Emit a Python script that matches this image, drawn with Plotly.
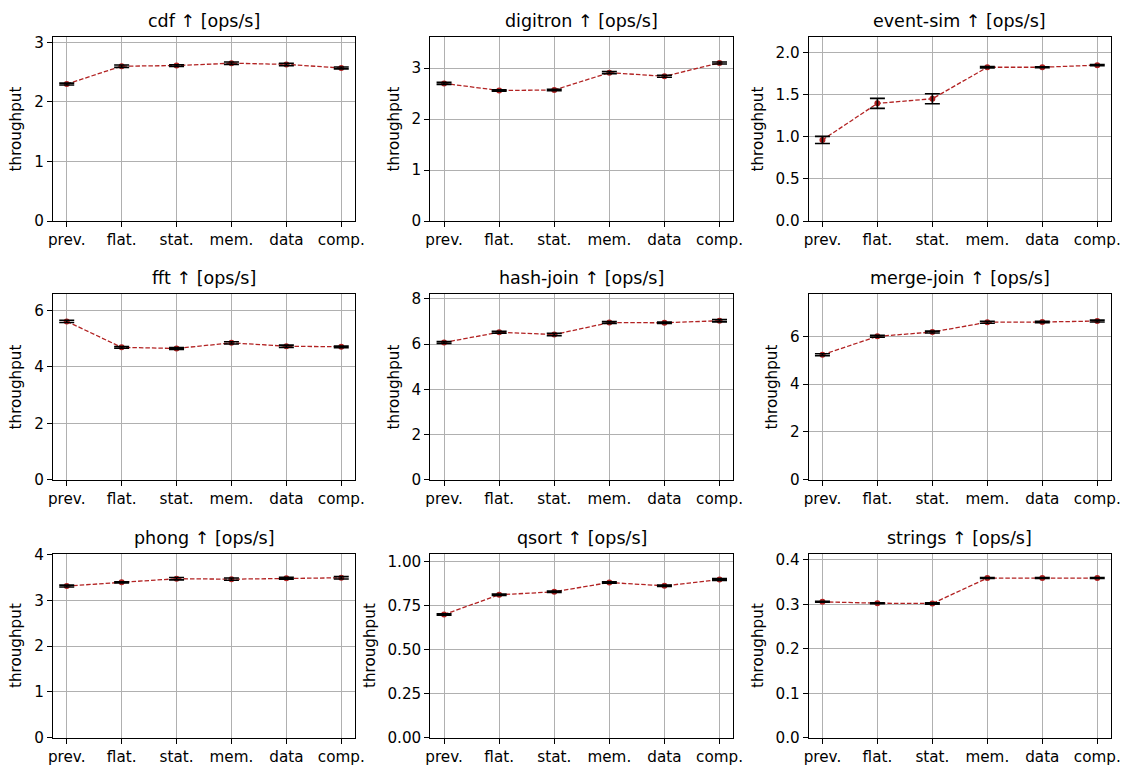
import plotly.graph_objects as go

categories = ["prev.", "flat.", "stat.", "mem.", "data", "comp."]
benchmarks = ["cdf", "digitron", "event-sim", "fft", "hash-join", "merge-join", "phong", "qsort", "strings"]

cdf_vals = [2.30, 2.60, 2.61, 2.65, 2.63, 2.57]
cdf_err = [0.015, 0.02, 0.015, 0.02, 0.02, 0.015]
digitron_vals = [2.70, 2.56, 2.57, 2.91, 2.84, 3.10]
digitron_err = [0.02, 0.015, 0.015, 0.02, 0.02, 0.02]
eventsim_vals = [0.965, 1.40, 1.455, 1.83, 1.83, 1.855]
eventsim_err = [0.042, 0.06, 0.06, 0.008, 0.006, 0.008]
fft_vals = [5.61, 4.69, 4.65, 4.85, 4.73, 4.71]
fft_err = [0.04, 0.03, 0.03, 0.04, 0.04, 0.03]
hashjoin_vals = [6.07, 6.52, 6.42, 6.95, 6.94, 7.03]
hashjoin_err = [0.04, 0.04, 0.05, 0.04, 0.03, 0.05]
mergejoin_vals = [5.23, 6.00, 6.18, 6.59, 6.60, 6.64]
mergejoin_err = [0.04, 0.04, 0.04, 0.04, 0.03, 0.04]
phong_vals = [3.31, 3.39, 3.47, 3.46, 3.48, 3.49]
phong_err = [0.02, 0.015, 0.025, 0.025, 0.02, 0.025]
qsort_vals = [0.701, 0.813, 0.830, 0.883, 0.864, 0.900]
qsort_err = [0.004, 0.004, 0.004, 0.004, 0.004, 0.005]
strings_vals = [0.3054, 0.3023, 0.3016, 0.3587, 0.3587, 0.3587]
strings_err = [0.001, 0.001, 0.0015, 0.001, 0.001, 0.001]

all_vals = [cdf_vals, digitron_vals, eventsim_vals, fft_vals, hashjoin_vals,
            mergejoin_vals, phong_vals, qsort_vals, strings_vals]
all_errs = [cdf_err, digitron_err, eventsim_err, fft_err, hashjoin_err,
            mergejoin_err, phong_err, qsort_err, strings_err]

y_tops = [3.09, 3.61, 2.19, 6.57, 8.2, 7.76, 4.02, 1.048, 0.414]
y_ticks = [
    [0, 1, 2, 3],
    [0, 1, 2, 3],
    [0.0, 0.5, 1.0, 1.5, 2.0],
    [0, 2, 4, 6],
    [0, 2, 4, 6, 8],
    [0, 2, 4, 6],
    [0, 1, 2, 3, 4],
    [0.0, 0.25, 0.5, 0.75, 1.0],
    [0.0, 0.1, 0.2, 0.3, 0.4],
]
y_fmt = [".0f", ".0f", ".1f", ".0f", ".0f", ".0f", ".0f", ".2f", ".1f"]

W, H = 1128, 766
col_px = [(53, 355), (430.3, 733.3), (808.7, 1111)]
row_px = [(37, 221), (294.3, 479.7), (553.5, 737.7)]

fig = go.Figure()
FONT = "DejaVu Sans"
RED = "#b22222"
TICK = 15.2
TITLE = 17.5

for i, name in enumerate(benchmarks):
    r, c = divmod(i, 3)
    ax = "" if i == 0 else str(i + 1)
    xd = [col_px[c][0] / W, col_px[c][1] / W]
    yd = [1 - row_px[r][1] / H, 1 - row_px[r][0] / H]
    xs = list(range(len(categories)))
    fig.add_trace(go.Scatter(
        x=xs, y=all_vals[i], mode="lines+markers",
        line=dict(color=RED, width=1.3, dash="4.5px,2px"),
        marker=dict(size=6, color=RED),
        xaxis="x" + ax, yaxis="y" + ax, showlegend=False))
    fig.add_trace(go.Scatter(
        x=xs, y=all_vals[i], mode="markers",
        marker=dict(size=1, color="rgba(0,0,0,0)"),
        error_y=dict(type="data", array=all_errs[i], color="black", thickness=1.6, width=7.5),
        xaxis="x" + ax, yaxis="y" + ax, showlegend=False, hoverinfo="skip"))
    fig.layout["xaxis" + ax] = dict(
        domain=xd, anchor="y" + ax, range=[-0.25, 5.25], automargin=False,
        tickmode="array", tickvals=xs, ticktext=categories,
        ticks="outside", ticklen=5, tickwidth=1, tickcolor="black",
        showline=True, linecolor="black", linewidth=1, mirror=True,
        showgrid=True, gridcolor="#b0b0b0", gridwidth=0.8, zeroline=False,
        tickfont=dict(family=FONT, size=TICK, color="black"))
    fig.layout["yaxis" + ax] = dict(
        domain=yd, anchor="x" + ax, range=[0, y_tops[i]], automargin=False,
        tickmode="array", tickvals=y_ticks[i],
        ticktext=[format(v, y_fmt[i]) for v in y_ticks[i]],
        ticks="outside", ticklen=5, tickwidth=1, tickcolor="black",
        showline=True, linecolor="black", linewidth=1, mirror=True,
        showgrid=True, gridcolor="#b0b0b0", gridwidth=0.8, zeroline=False,
        tickfont=dict(family=FONT, size=TICK, color="black"),
        title=dict(text="throughput", standoff=8, font=dict(family=FONT, size=TICK, color="black")))
    fig.add_annotation(
        text=f"{name} \u2191 [ops/s]", xref="paper", yref="paper",
        x=(xd[0] + xd[1]) / 2, y=yd[1], xanchor="center", yanchor="bottom",
        yshift=4, showarrow=False, font=dict(family=FONT, size=TITLE, color="black"))

fig.update_layout(
    width=W, height=H, margin=dict(l=0, r=0, t=0, b=0),
    paper_bgcolor="white", plot_bgcolor="white", showlegend=False)

fig.write_html("out.html", config={"displayModeBar": False},
               post_script="document.body.style.margin='0';document.body.style.padding='0';")
